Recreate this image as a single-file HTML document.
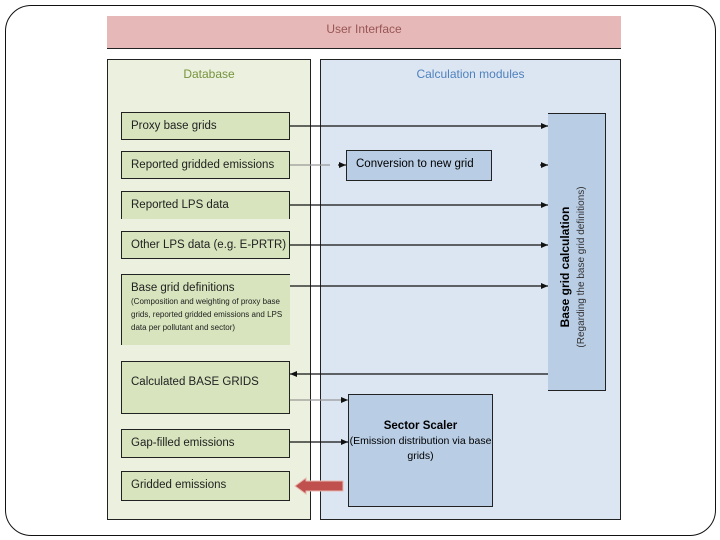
<!DOCTYPE html>
<html><head><style>
body{margin:0;width:720px;height:540px;background:#fff;position:relative;overflow:hidden;font-family:"Liberation Sans",sans-serif;}
.a{position:absolute;box-sizing:border-box;}
.g{background:#d7e4bd;border:1px solid #222;font-size:11.5px;color:#222;padding-left:9px;line-height:26px;}
</style></head><body>
<div class="a" style="left:5px;top:5px;width:711px;height:531px;border:1.5px solid #111;border-radius:26px;"></div>
<div class="a" style="left:107px;top:16px;width:514px;height:33px;background:#e6b9b8;border-bottom:1.5px solid #222;text-align:center;font-size:12px;color:#955;line-height:26px;">User Interface</div>
<div class="a" style="left:107px;top:59px;width:204px;height:461px;background:#ebf1de;border:1px solid #222;text-align:center;font-size:12px;color:#77933c;line-height:28px;">Database</div>
<div class="a" style="left:320px;top:59px;width:301px;height:461px;background:#dce6f2;border:1px solid #222;text-align:center;font-size:12px;color:#4f81bd;line-height:28px;">Calculation modules</div>
<div class="a g" style="left:121px;top:112px;width:169px;height:28px;">Proxy base grids</div>
<div class="a g" style="left:121px;top:151px;width:169px;height:28px;">Reported gridded emissions</div>
<div class="a g" style="left:121px;top:191px;width:169px;height:28px;border-bottom:none;">Reported LPS data</div>
<div class="a g" style="left:121px;top:231px;width:169px;height:28px;">Other LPS data (e.g. E-PRTR)</div>
<div class="a g" style="left:121px;top:274px;width:169px;height:71px;border:none;border-top:1px solid #222;border-left:1px solid #222;line-height:14px;padding-top:6px;">Base grid definitions<div style="font-size:8px;line-height:13px;">(Composition and weighting of proxy base grids, reported gridded emissions and LPS data per pollutant and sector)</div></div>
<div class="a g" style="left:121px;top:361px;width:169px;height:53px;line-height:40px;">Calculated BASE GRIDS</div>
<div class="a g" style="left:121px;top:429px;width:169px;height:29px;">Gap-filled emissions</div>
<div class="a g" style="left:121px;top:471px;width:169px;height:30px;">Gridded emissions</div>
<div class="a" style="left:346px;top:150px;width:146px;height:31px;background:#b9cde5;border:1px solid #222;font-size:11.5px;padding-left:9px;line-height:26px;">Conversion to new grid</div>
<div class="a" style="left:548px;top:113px;width:58px;height:278px;background:#b9cde5;border:1px solid #222;border-left:none;"></div>
<div class="a" style="left:438px;top:238px;width:278px;height:58px;transform:rotate(-90deg);text-align:center;">
<div style="font-size:12px;font-weight:bold;margin-top:10px;">Base grid calculation</div>
<div style="font-size:10px;color:#333;margin-top:4px;">(Regarding the base grid definitions)</div></div>
<div class="a" style="left:348px;top:394px;width:145px;height:113px;background:#b9cde5;border:1px solid #222;text-align:center;font-size:10.5px;padding-top:24px;line-height:15px;"><b style="font-size:11.5px;">Sector Scaler</b><br>(Emission distribution via base grids)</div>
<svg class="a" style="left:0;top:0" width="720" height="540">
<defs><marker id="m" markerWidth="8" markerHeight="8" refX="7" refY="4" orient="auto" markerUnits="userSpaceOnUse"><path d="M0,1 L7,4 L0,7z" fill="#111"/></marker></defs>
<g stroke="#111" stroke-width="1.2" fill="none">
<line x1="290" y1="126" x2="548" y2="126" marker-end="url(#m)"/>
<line x1="290" y1="165" x2="330" y2="165" stroke="#999"/>
<line x1="338" y1="165" x2="346" y2="165" marker-end="url(#m)"/>
<line x1="540" y1="165" x2="548" y2="165" marker-end="url(#m)"/>
<line x1="290" y1="205" x2="548" y2="205" marker-end="url(#m)"/>
<line x1="290" y1="245" x2="548" y2="245" marker-end="url(#m)"/>
<line x1="290" y1="286" x2="548" y2="286" marker-end="url(#m)"/>
<line x1="548" y1="374" x2="290" y2="374" marker-end="url(#m)"/>
<line x1="290" y1="400" x2="348" y2="400" stroke="#999" marker-end="url(#m)"/>
<line x1="290" y1="442" x2="348" y2="442" marker-end="url(#m)"/>
</g>
<path d="M295,486 L306,478 L306,481 L343,481 L343,491 L306,491 L306,494z" fill="#c0504d" stroke="#e8b8b0" stroke-width="1"/>
</svg>
</body></html>
